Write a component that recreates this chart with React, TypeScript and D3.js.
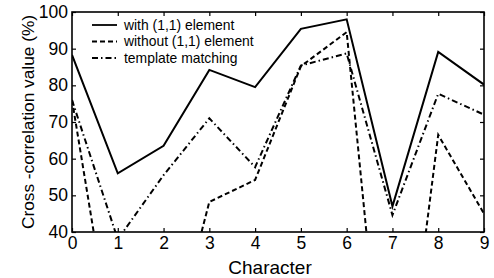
import React, { useRef, useEffect } from 'react';
import * as d3 from 'd3';

const characters = [0, 1, 2, 3, 4, 5, 6, 7, 8, 9];
const withElement = [88.3, 56, 63.5, 84.2, 79.5, 95.4, 98, 47, 89.1, 80.2];
const withoutElement = [76, 0, 0, 48.2, 54.2, 85.2, 94.5, -32, 66.5, 45];
const templateMatching = [76, 38, 55.5, 71, 57.7, 85.4, 88.7, 44.6, 77.7, 72];
const yTicks = [40, 50, 60, 70, 80, 90, 100];

const legendItems = [
    { label: 'with (1,1) element', dash: null },
    { label: 'without (1,1) element', dash: '5,3' },
    { label: 'template matching', dash: '6,3,1.5,3' },
];

export default function App() {
    const svgRef = useRef<SVGSVGElement | null>(null);

    useEffect(() => {
        const svg = d3.select(svgRef.current);
        svg.selectAll('*').remove();

        const margin = { top: 12, right: 10, bottom: 46, left: 72 };
        const width = 494;
        const height = 278;
        const font = 'Liberation Sans, Arial, Helvetica, sans-serif';

        const x = d3.scaleLinear().domain([0, 9]).range([margin.left, width - margin.right]);
        const y = d3.scaleLinear().domain([40, 100]).range([height - margin.bottom, margin.top]);

        svg.append('rect').attr('width', width).attr('height', height).attr('fill', '#fff');

        svg.append('defs').append('clipPath').attr('id', 'plot-clip')
            .append('rect')
            .attr('x', x(0)).attr('y', y(100))
            .attr('width', x(9) - x(0)).attr('height', y(40) - y(100));

        // axes, ticks pointing in on all four sides
        const tick = 4;
        svg.append('g')
            .attr('transform', `translate(0, ${y(40)})`)
            .call(d3.axisBottom(x).tickValues(characters).tickSizeInner(-tick).tickSizeOuter(0).tickPadding(5).tickFormat(d3.format('d')))
            .call(g => g.selectAll('.domain').remove())
            .call(g => g.selectAll('text').attr('font-size', 17.5).attr('font-family', font).attr('fill', '#000'));
        svg.append('g')
            .attr('transform', `translate(0, ${y(100)})`)
            .call(d3.axisTop(x).tickValues(characters).tickSizeInner(-tick).tickSizeOuter(0).tickFormat(() => ''))
            .call(g => g.selectAll('.domain').remove());
        svg.append('g')
            .attr('transform', `translate(${x(0)}, 0)`)
            .call(d3.axisLeft(y).tickValues(yTicks).tickSizeInner(-tick).tickSizeOuter(0).tickPadding(4).tickFormat(d3.format('d')))
            .call(g => g.selectAll('.domain').remove())
            .call(g => g.selectAll('text').attr('font-size', 17.5).attr('font-family', font).attr('fill', '#000'));
        svg.append('g')
            .attr('transform', `translate(${x(9)}, 0)`)
            .call(d3.axisRight(y).tickValues(yTicks).tickSizeInner(-tick).tickSizeOuter(0).tickFormat(() => ''))
            .call(g => g.selectAll('.domain').remove());
        svg.selectAll('.tick line').attr('stroke', '#000').attr('stroke-width', 1.2);

        svg.append('rect')
            .attr('x', x(0)).attr('y', y(100))
            .attr('width', x(9) - x(0)).attr('height', y(40) - y(100))
            .attr('fill', 'none').attr('stroke', '#000').attr('stroke-width', 1.6);

        // series
        const line = d3.line<number>().x((d, i) => x(characters[i])).y(d => y(d));
        const series = [
            { values: withElement, dash: null },
            { values: withoutElement, dash: '5,3' },
            { values: templateMatching, dash: '6,3,1.5,3' },
        ];
        const plot = svg.append('g').attr('clip-path', 'url(#plot-clip)');
        series.forEach(s => {
            plot.append('path')
                .attr('d', line(s.values))
                .attr('fill', 'none')
                .attr('stroke', '#000')
                .attr('stroke-width', 2)
                .attr('stroke-dasharray', s.dash);
        });

        // legend
        const legend = svg.append('g');
        legendItems.forEach((item, i) => {
            const ly = 25 + i * 16.5;
            legend.append('line')
                .attr('x1', 92).attr('x2', 117).attr('y1', ly).attr('y2', ly)
                .attr('stroke', '#000').attr('stroke-width', 1.8)
                .attr('stroke-dasharray', item.dash);
            legend.append('text')
                .attr('x', 124).attr('y', ly).attr('dy', '0.35em')
                .attr('font-size', 13.9).attr('font-family', font)
                .text(item.label);
        });

        // axis titles
        svg.append('text')
            .attr('transform', `translate(34, 122) rotate(-90)`)
            .attr('text-anchor', 'middle')
            .attr('font-size', 17.3).attr('font-family', font)
            .text('Cross -correlation value (%)');
        svg.append('text')
            .attr('x', 270).attr('y', 274)
            .attr('text-anchor', 'middle')
            .attr('font-size', 19).attr('font-family', font)
            .text('Character');
    }, []);

    return (
        <div style={{ position: 'absolute', left: 0, top: 0 }}>
            <svg ref={svgRef} width={494} height={278} style={{ display: 'block' }} />
        </div>
    );
}
